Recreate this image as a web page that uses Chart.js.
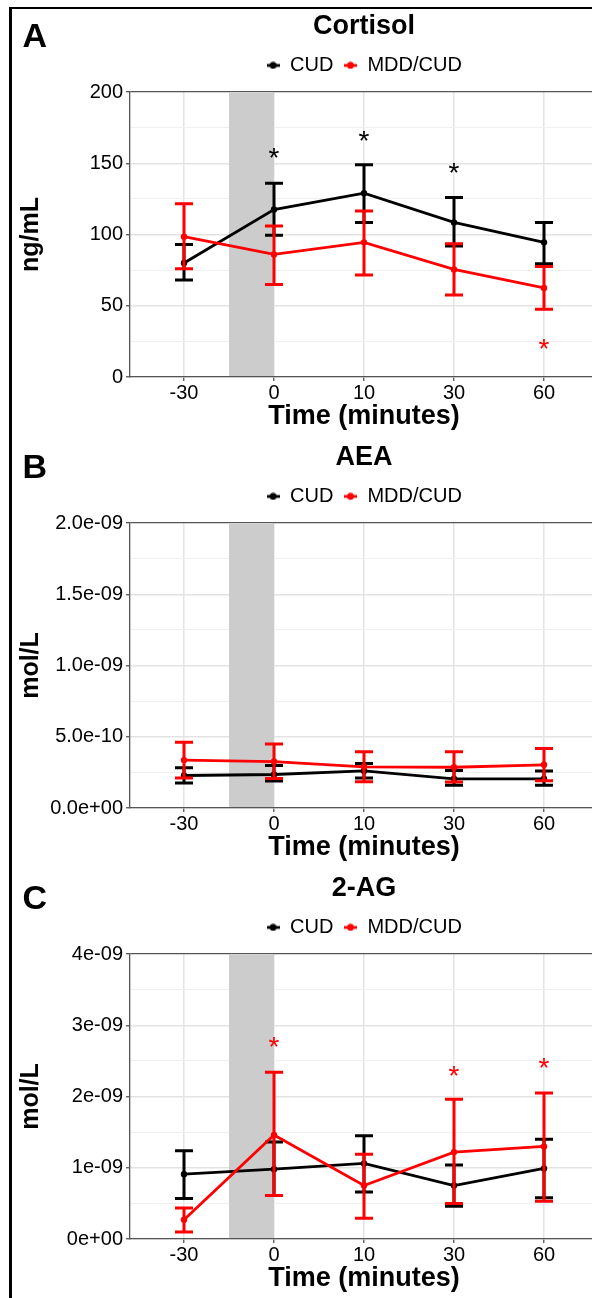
<!DOCTYPE html>
<html>
<head>
<meta charset="utf-8">
<title>Cortisol, AEA and 2-AG</title>
<script src="https://cdn.jsdelivr.net/npm/chart.js@4.4.1/dist/chart.umd.min.js"></script>
<style>
  html, body { margin: 0; padding: 0; background: #fff; }
  body { width: 592px; height: 1298px; overflow: hidden; position: relative; }
  .frame { position: absolute; left: 9px; top: 7px; width: 800px; height: 1400px;
           border-left: 3px solid #000; border-top: 2px solid #000; }
  .panel { position: absolute; left: 0; width: 592px; height: 436px; overflow: hidden; }
  .panel canvas { display: block; }
</style>
</head>
<body>
<div class="frame"></div>
<div class="panel" style="top:0px"><canvas id="cortisolChart" width="728" height="431"></canvas></div>
<div class="panel" style="top:431px"><canvas id="aeaChart" width="728" height="431"></canvas></div>
<div class="panel" style="top:862px"><canvas id="agChart" width="728" height="431"></canvas></div>

<script>
// time points (x axis) and the shaded stress window, in time-point positions
const timeLabels = ['-30', '0', '10', '30', '60'];
const stressWindow = [0.5, 1];

// A - Cortisol (ng/mL)
const cortTicks = [0, 50, 100, 150, 200];
const cortTickLabels = ['0', '50', '100', '150', '200'];
const cortCud = [80, 117.5, 129, 108.5, 94.5];
const cortCudLow = [68, 99.5, 108.5, 92, 79.5];
const cortCudHigh = [93, 136, 149, 126, 108.5];
const cortMdd = [98.5, 86, 94.5, 75.5, 62.5];
const cortMddLow = [76, 65, 71.5, 57.5, 47.5];
const cortMddHigh = [121.5, 106, 116.5, 93.5, 77.5];
const cortCudStars = [null, 157.5, 169, 147, null];
const cortMddStars = [null, null, null, null, 23];

// B - AEA (mol/L)
const aeaTicks = [0, 5e-10, 1e-9, 1.5e-9, 2e-9];
const aeaTickLabels = ['0.0e+00', '5.0e-10', '1.0e-09', '1.5e-09', '2.0e-09'];
const aeaCud = [2.28e-10, 2.35e-10, 2.6e-10, 2.05e-10, 2.05e-10];
const aeaCudLow = [1.76e-10, 1.9e-10, 2.1e-10, 1.6e-10, 1.6e-10];
const aeaCudHigh = [2.82e-10, 2.98e-10, 3.12e-10, 2.63e-10, 2.6e-10];
const aeaMdd = [3.36e-10, 3.26e-10, 2.89e-10, 2.86e-10, 3.03e-10];
const aeaMddLow = [2.11e-10, 2.07e-10, 1.85e-10, 1.83e-10, 1.92e-10];
const aeaMddHigh = [4.62e-10, 4.5e-10, 3.94e-10, 3.94e-10, 4.18e-10];
const aeaCudStars = [null, null, null, null, null];
const aeaMddStars = [null, null, null, null, null];

// C - 2-AG (mol/L)
const agTicks = [0, 1e-9, 2e-9, 3e-9, 4e-9];
const agTickLabels = ['0e+00', '1e-09', '2e-09', '3e-09', '4e-09'];
const agCud = [0.91e-9, 0.98e-9, 1.06e-9, 0.75e-9, 0.99e-9];
const agCudLow = [0.57e-9, 0.61e-9, 0.66e-9, 0.46e-9, 0.58e-9];
const agCudHigh = [1.24e-9, 1.36e-9, 1.45e-9, 1.04e-9, 1.4e-9];
const agMdd = [0.27e-9, 1.46e-9, 0.75e-9, 1.22e-9, 1.3e-9];
const agMddLow = [0.1e-9, 0.61e-9, 0.29e-9, 0.5e-9, 0.53e-9];
const agMddHigh = [0.435e-9, 2.34e-9, 1.19e-9, 1.96e-9, 2.05e-9];
const agCudStars = [null, null, null, null, null];
const agMddStars = [null, 2.77e-9, null, 2.36e-9, 2.47e-9];

const FONT = "'Liberation Sans', Arial, sans-serif";
const AXIS = '#555555';
const CAP = 0.1; // half width of the error bar caps, in time-point units

Chart.defaults.font.family = FONT;
Chart.defaults.color = '#000';

// little line-with-dot icons for the legend (like ggplot's)
function legendIcon(color) {
    const c = document.createElement('canvas');
    c.width = 13;
    c.height = 8;
    const g = c.getContext('2d');
    g.strokeStyle = color;
    g.lineWidth = 2.8;
    g.beginPath();
    g.moveTo(0, 4);
    g.lineTo(13, 4);
    g.stroke();
    g.fillStyle = color;
    g.beginPath();
    g.arc(6.5, 4, 3.4, 0, Math.PI * 2);
    g.fill();
    return c;
}
const legendIcons = [legendIcon('#000000'), legendIcon('#ff0000')];

// major ticks plus a minor one halfway between each pair
function withMinor(major) {
    const out = [];
    major.forEach((v, i) => {
        out.push({ value: v });
        if (i < major.length - 1) out.push({ value: (v + major[i + 1]) / 2 });
    });
    return out;
}

// push the plot a bit further below the legend
const legendSpacing = {
    id: 'legendSpacing',
    beforeInit(chart) {
        const fitLegend = chart.legend.fit;
        chart.legend.fit = function () {
            fitLegend.call(this);
            this.height += 6.6;
        };
    }
};

// shaded window, error bars, significance stars and the panel letter
const errorBars = {
    id: 'errorBars',
    beforeDatasetsDraw(chart) {
        const { ctx, chartArea, scales: { x } } = chart;
        const left = x.getPixelForValue(stressWindow[0]);
        const right = x.getPixelForValue(stressWindow[1]);
        ctx.save();
        ctx.fillStyle = '#cccccc';
        ctx.fillRect(left, chartArea.top + 1, right - left, chartArea.height - 2);
        ctx.restore();
    },
    afterDatasetDraw(chart, args) {
        const ds = chart.data.datasets[args.index];
        const { ctx, scales: { x, y } } = chart;
        ctx.save();
        ctx.strokeStyle = ds.borderColor;
        ctx.lineWidth = 3;
        ds.errLow.forEach((lo, i) => {
            const px = x.getPixelForValue(i);
            const capL = x.getPixelForValue(i - CAP);
            const capR = x.getPixelForValue(i + CAP);
            const yLo = y.getPixelForValue(lo);
            const yHi = y.getPixelForValue(ds.errHigh[i]);
            ctx.beginPath();
            ctx.moveTo(px, yLo);
            ctx.lineTo(px, yHi);
            ctx.moveTo(capL, yLo);
            ctx.lineTo(capR, yLo);
            ctx.moveTo(capL, yHi);
            ctx.lineTo(capR, yHi);
            ctx.stroke();
        });
        ctx.restore();
    },
    afterDatasetsDraw(chart) {
        const { ctx, scales: { x, y } } = chart;
        ctx.save();
        ctx.font = '28px ' + FONT;
        ctx.textAlign = 'center';
        ctx.textBaseline = 'alphabetic';
        const m = ctx.measureText('*');
        const shift = (m.actualBoundingBoxAscent - m.actualBoundingBoxDescent) / 2;
        chart.data.datasets.forEach(ds => {
            ctx.fillStyle = ds.borderColor;
            ds.stars.forEach((s, i) => {
                if (s === null) return;
                ctx.fillText('*', x.getPixelForValue(i), y.getPixelForValue(s) + shift);
            });
        });
        ctx.restore();
    },
    afterDraw(chart, args, opts) {
        const ctx = chart.ctx;
        ctx.save();
        ctx.font = 'bold 34px ' + FONT;
        ctx.fillStyle = '#000';
        ctx.textBaseline = 'alphabetic';
        ctx.fillText(opts.letter, 22.5, 47);
        ctx.restore();
    }
};

function series(label, color, values, low, high, stars, order) {
    return {
        label: label,
        order: order,
        data: values.map((v, i) => ({ x: i, y: v })),
        errLow: low,
        errHigh: high,
        stars: stars,
        borderColor: color,
        backgroundColor: color,
        pointBackgroundColor: color,
        borderWidth: 2.8,
        pointRadius: 3.2,
        pointHoverRadius: 3.2,
        pointBorderWidth: 0,
        tension: 0
    };
}

function buildPanel(id, p) {
    const ctx = document.getElementById(id).getContext('2d');
    const lastTick = p.yTicks.length * 2 - 2;

    return new Chart(ctx, {
        type: 'line',
        data: {
            datasets: [
                series('CUD', '#000000', p.cud, p.cudLow, p.cudHigh, p.cudStars, 2),
                series('MDD/CUD', '#ff0000', p.mdd, p.mddLow, p.mddHigh, p.mddStars, 1)
            ]
        },
        options: {
            responsive: false,
            animation: false,
            devicePixelRatio: 1,
            plugins: {
                title: {
                    display: true,
                    text: p.title,
                    color: '#000',
                    font: { size: 27, weight: 'bold' },
                    padding: { top: 10, bottom: 3 }
                },
                legend: {
                    position: 'top',
                    labels: {
                        usePointStyle: true,
                        pointStyleWidth: 14,
                        padding: 10,
                        color: '#000',
                        font: { size: 20 },
                        sort: (a, b) => a.datasetIndex - b.datasetIndex,
                        generateLabels: function(chart) {
                            const items = Chart.defaults.plugins.legend.labels.generateLabels(chart);
                            items.forEach(item => { item.pointStyle = legendIcons[item.datasetIndex]; });
                            return items;
                        }
                    }
                },
                tooltip: { enabled: false },
                errorBars: { letter: p.letter }
            },
            scales: {
                x: {
                    type: 'linear',
                    min: -0.6,
                    max: 4.6,
                    afterBuildTicks: axis => { axis.ticks = timeLabels.map((t, i) => ({ value: i })); },
                    afterFit: axis => { axis.height = 54; },
                    ticks: {
                        autoSkip: false,
                        maxRotation: 0,
                        padding: 2,
                        color: '#000',
                        font: { size: 20, lineHeight: 1 },
                        callback: v => timeLabels[v]
                    },
                    grid: { color: '#e3e3e3', lineWidth: 1.5, tickLength: 4, tickColor: AXIS, tickWidth: 1.3 },
                    border: { display: true, color: AXIS, width: 1.3 },
                    title: {
                        display: true,
                        text: 'Time (minutes)',
                        color: '#000',
                        font: { size: 27, weight: 'bold', lineHeight: 1 },
                        padding: { top: 0, bottom: 1 }
                    }
                },
                y: {
                    type: 'linear',
                    min: 0,
                    max: p.yTicks[p.yTicks.length - 1],
                    afterBuildTicks: axis => { axis.ticks = withMinor(p.yTicks); },
                    afterFit: axis => { axis.width = 130; },
                    ticks: {
                        autoSkip: false,
                        padding: 3,
                        color: '#000',
                        font: { size: 20 },
                        callback: (v, i) => (i % 2 === 0 ? p.yTickLabels[i / 2] : '')
                    },
                    grid: {
                        color: c => (c.index === lastTick ? AXIS : (c.index % 2 === 0 ? '#e3e3e3' : '#f0f0f0')),
                        lineWidth: c => (c.index === lastTick ? 1.3 : (c.index % 2 === 0 ? 1.5 : 1)),
                        tickLength: 4,
                        tickWidth: 1.3,
                        tickColor: c => (c.index % 2 === 0 ? AXIS : 'rgba(0,0,0,0)')
                    },
                    border: { display: true, color: AXIS, width: 1.3 },
                    title: {
                        display: true,
                        text: p.yTitle,
                        color: '#000',
                        font: { size: 25, weight: 'bold' },
                        padding: { top: 16.5, bottom: 0 }
                    }
                },
                // empty right-hand axis, only there to balance the left one so
                // the title and legend centre over the plot (it runs off the page)
                yPad: {
                    type: 'linear',
                    position: 'right',
                    min: 0,
                    max: 1,
                    afterFit: axis => { axis.width = 130; },
                    ticks: { display: false },
                    grid: { display: false, drawTicks: false },
                    border: { display: false }
                }
            }
        },
        plugins: [legendSpacing, errorBars]
    });
}

buildPanel('cortisolChart', {
    letter: 'A', title: 'Cortisol', yTitle: 'ng/mL',
    yTicks: cortTicks, yTickLabels: cortTickLabels,
    cud: cortCud, cudLow: cortCudLow, cudHigh: cortCudHigh, cudStars: cortCudStars,
    mdd: cortMdd, mddLow: cortMddLow, mddHigh: cortMddHigh, mddStars: cortMddStars
});

buildPanel('aeaChart', {
    letter: 'B', title: 'AEA', yTitle: 'mol/L',
    yTicks: aeaTicks, yTickLabels: aeaTickLabels,
    cud: aeaCud, cudLow: aeaCudLow, cudHigh: aeaCudHigh, cudStars: aeaCudStars,
    mdd: aeaMdd, mddLow: aeaMddLow, mddHigh: aeaMddHigh, mddStars: aeaMddStars
});

buildPanel('agChart', {
    letter: 'C', title: '2-AG', yTitle: 'mol/L',
    yTicks: agTicks, yTickLabels: agTickLabels,
    cud: agCud, cudLow: agCudLow, cudHigh: agCudHigh, cudStars: agCudStars,
    mdd: agMdd, mddLow: agMddLow, mddHigh: agMddHigh, mddStars: agMddStars
});
</script>
</body>
</html>
